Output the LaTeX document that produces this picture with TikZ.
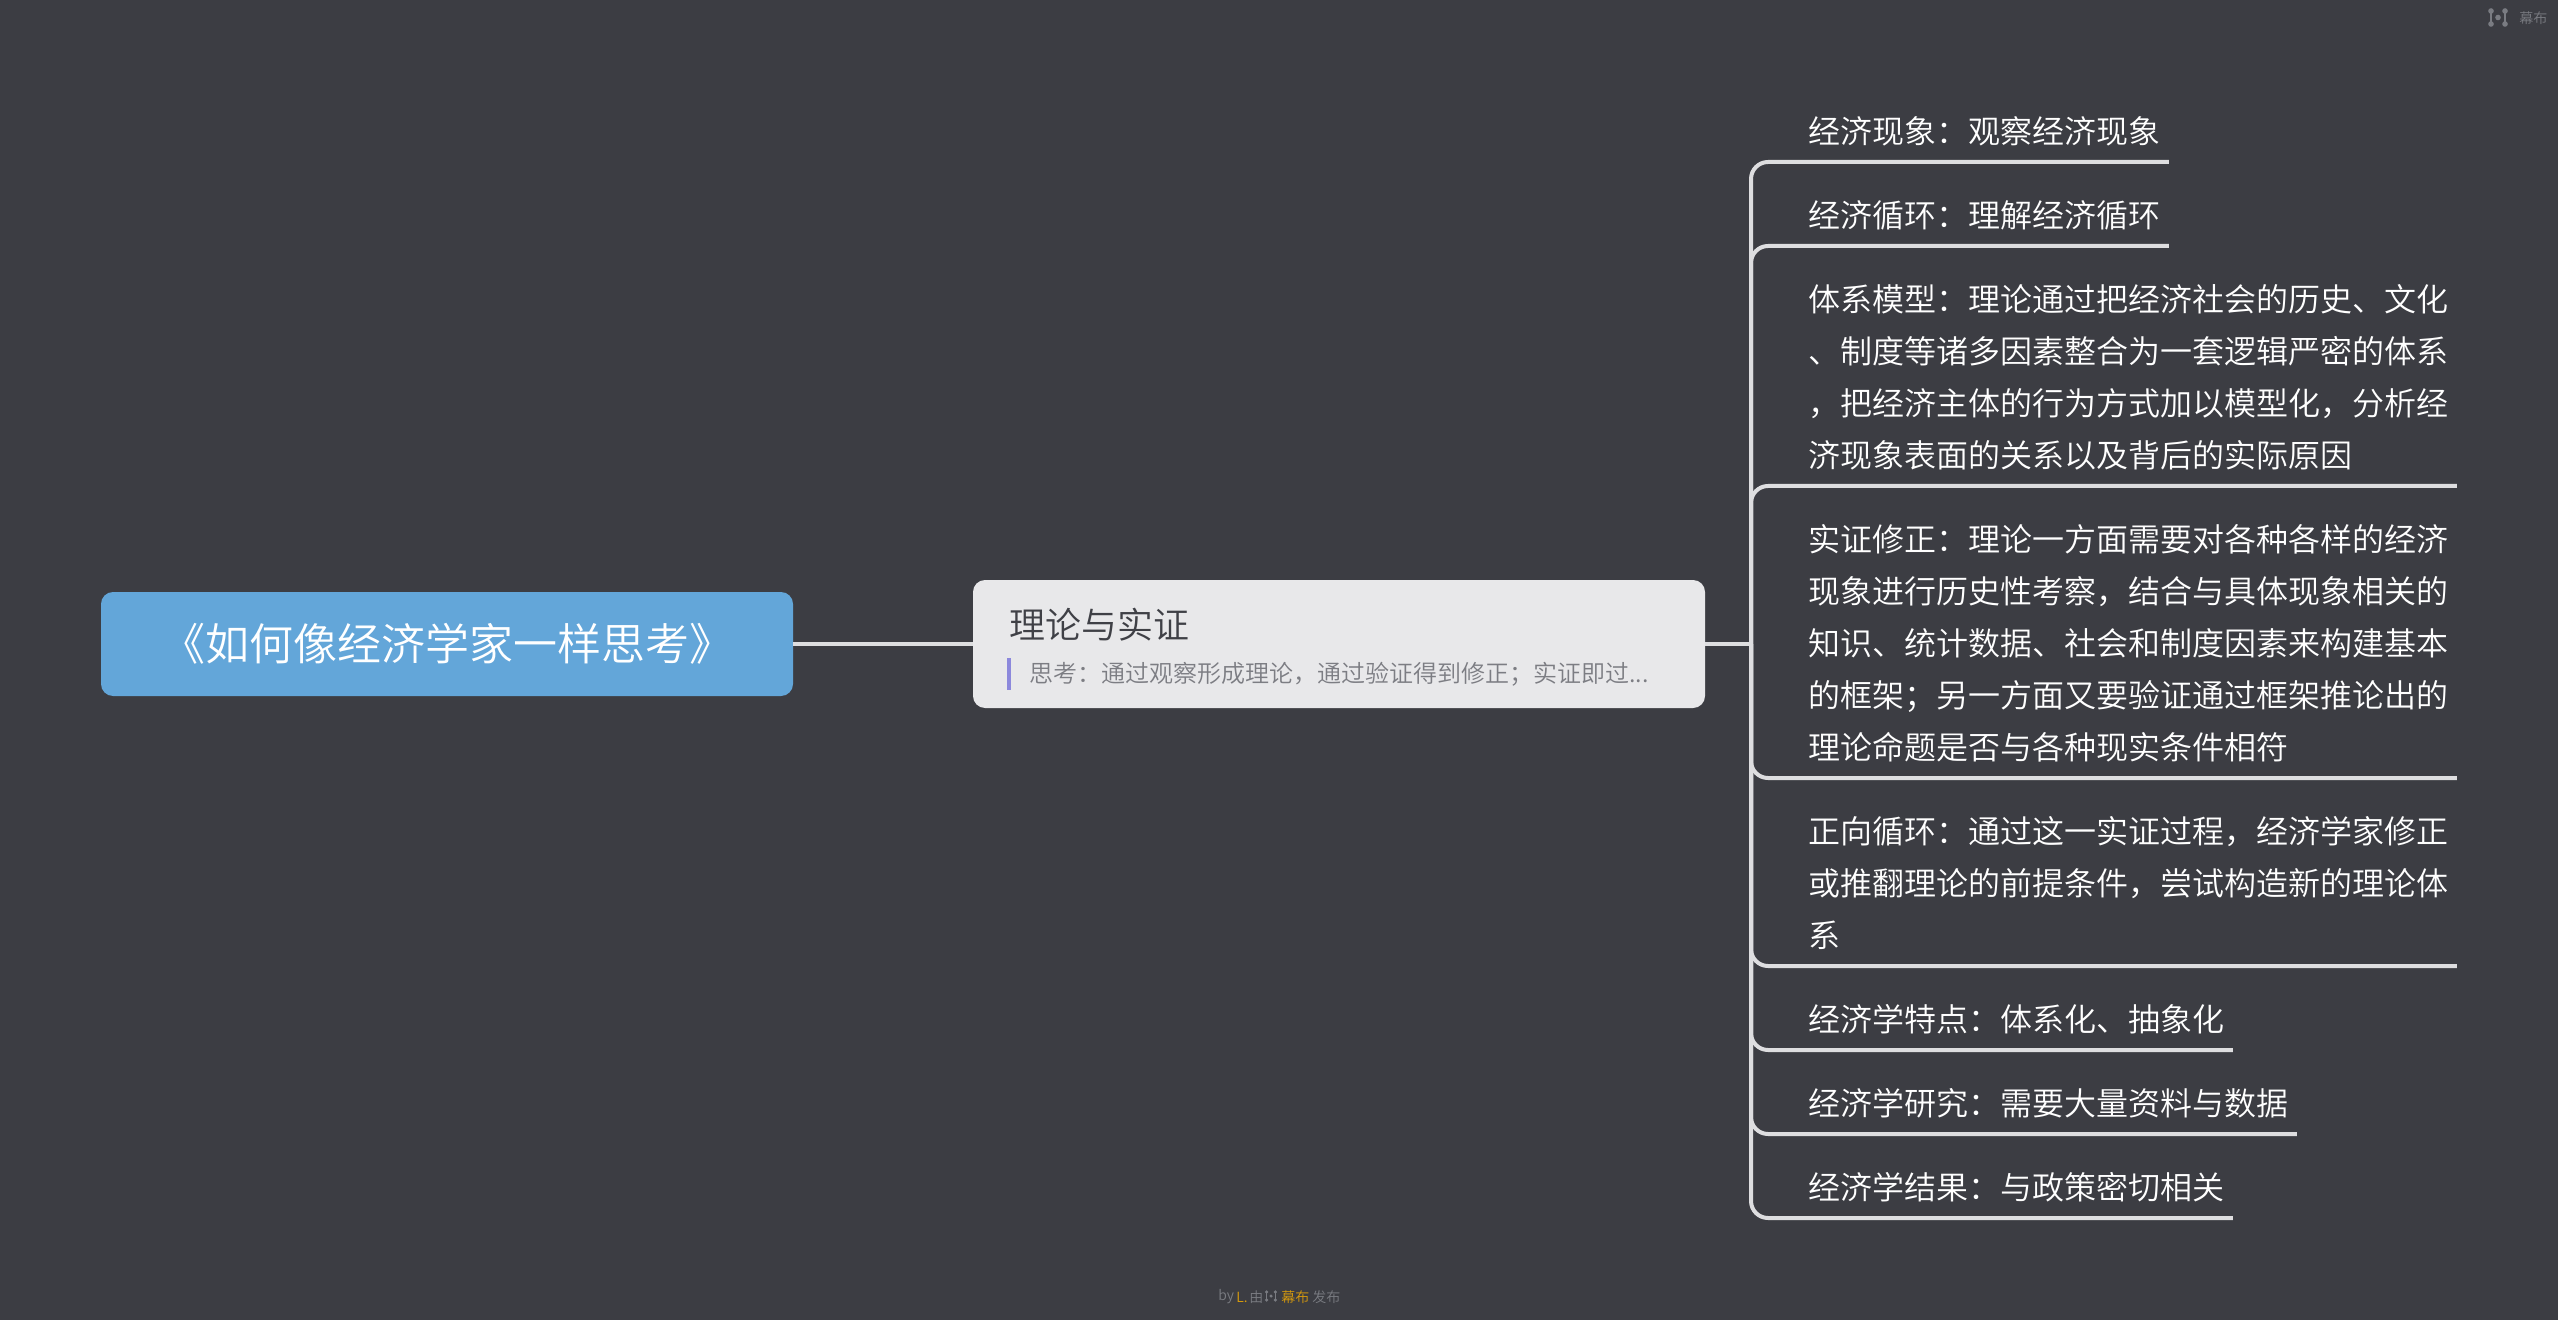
\documentclass[tikz,border=0pt]{standalone}
\usepackage{fontspec}
\setmainfont{Noto Sans CJK SC DemiLight}
\definecolor{bgcol}{HTML}{3C3D43}
\definecolor{rootcol}{HTML}{63A6D9}
\definecolor{cardcol}{HTML}{E8E8EA}
\definecolor{linecol}{HTML}{DEDEE0}
\definecolor{barcol}{HTML}{8C88DC}
\definecolor{titlecol}{HTML}{3F4046}
\definecolor{notecol}{HTML}{7C7D83}
\definecolor{markcol}{HTML}{7A7C82}
\definecolor{namecol}{HTML}{D89B0C}
\tikzset{
  rootbox/.style={fill=rootcol,text=white,rounded corners=6pt,minimum width=346pt,minimum height=52pt,inner sep=0pt,font=\fontsize{22}{26}\selectfont},
  topicbox/.style={fill=cardcol,rounded corners=6pt,minimum width=366pt,minimum height=64pt,inner sep=0pt},
  topictext/.style={anchor=west,inner sep=0pt,text=titlecol,font=\fontsize{18}{22}\selectfont},
  notetext/.style={anchor=west,inner sep=0pt,text=notecol,font=\fontsize{12}{16}\selectfont},
  notebar/.style={fill=barcol,minimum width=2pt,minimum height=16pt,inner sep=0pt},
  itemtext/.style={anchor=south west,align=left,text=white,inner xsep=4pt,inner ysep=9pt,text depth=0pt,font=\fontsize{16}{26}\selectfont},
  marktext/.style={anchor=west,inner sep=0pt,text=markcol,font=\fontsize{7}{9}\selectfont},
  nametext/.style={marktext,text=namecol},
  branch/.style={draw=linecol,line width=2pt},
  itembranch/.style={branch,rounded corners=8.5pt},
  logodots/.pic={
    \draw[line width=0.6pt] (-7,-6.5) -- (-7,6.5) (7,-6.5) -- (7,6.5);
    \fill (-7,-6.5) circle (2.8) (-7,6.5) circle (2.8) (7,-6.5) circle (2.8) (7,6.5) circle (2.8) (0,0) circle (2.8);
  }
}
\begin{document}
\begin{tikzpicture}[x=0.5pt,y=-0.5pt]
\path[fill=bgcol] (0,0) rectangle (2558,1320);
\node[rootbox] (root) at (447,644) {\raisebox{-0.5pt}{《如何像经济学家一样思考》}};
\node[topicbox] (topic) at (1339,644) {};
\node[topictext] (title) at (1009,624.5) {理论与实证};
\node[notebar] (bar) at (1009,674) {};
\node[notetext] (note) at (1029,674.5) {思考：通过观察形成理论，通过验证得到修正；实证即过...};
\coordinate (trunk) at (1751,644);
\node[itemtext] (item1) at (1800,162) {经济现象：观察经济现象};
\node[itemtext] (item2) at (1800,246) {经济循环：理解经济循环};
\node[itemtext] (item3) at (1800,486) {体系模型：理论通过把经济社会的历史、文化\\、制度等诸多因素整合为一套逻辑严密的体系\\，把经济主体的行为方式加以模型化，分析经\\济现象表面的关系以及背后的实际原因};
\node[itemtext] (item4) at (1800,778) {实证修正：理论一方面需要对各种各样的经济\\现象进行历史性考察，结合与具体现象相关的\\知识、统计数据、社会和制度因素来构建基本\\的框架；另一方面又要验证通过框架推论出的\\理论命题是否与各种现实条件相符};
\node[itemtext] (item5) at (1800,966) {正向循环：通过这一实证过程，经济学家修正\\或推翻理论的前提条件，尝试构造新的理论体\\系};
\node[itemtext] (item6) at (1800,1050) {经济学特点：体系化、抽象化};
\node[itemtext] (item7) at (1800,1134) {经济学研究：需要大量资料与数据};
\node[itemtext] (item8) at (1800,1218) {经济学结果：与政策密切相关};
\draw[branch] (root) -- (topic);
\draw[branch] (topic) -- (trunk);
\draw[itembranch] (trunk) |- (item1.south east);
\draw[itembranch] (trunk) |- (item2.south east);
\draw[itembranch] (trunk) |- (item3.south east);
\draw[itembranch] (trunk) |- (item4.south east);
\draw[itembranch] (trunk) |- (item5.south east);
\draw[itembranch] (trunk) |- (item6.south east);
\draw[itembranch] (trunk) |- (item7.south east);
\draw[itembranch] (trunk) |- (item8.south east);
% marks
\pic[markcol] at (2498,17.5) {logodots};
\node[marktext] (mark) at (2519,18) {幕布};
\node[marktext] (by) at (1218,1297) {by};
\node[nametext] (name) at (1236,1297) {L.};
\node[marktext] (you) at (1249,1297) {由};
\pic[markcol,scale=0.62] at (1271,1296) {logodots};
\node[nametext] (brand) at (1281,1297) {幕布};
\node[marktext] (pub) at (1312,1297) {发布};
\end{tikzpicture}
\end{document}
